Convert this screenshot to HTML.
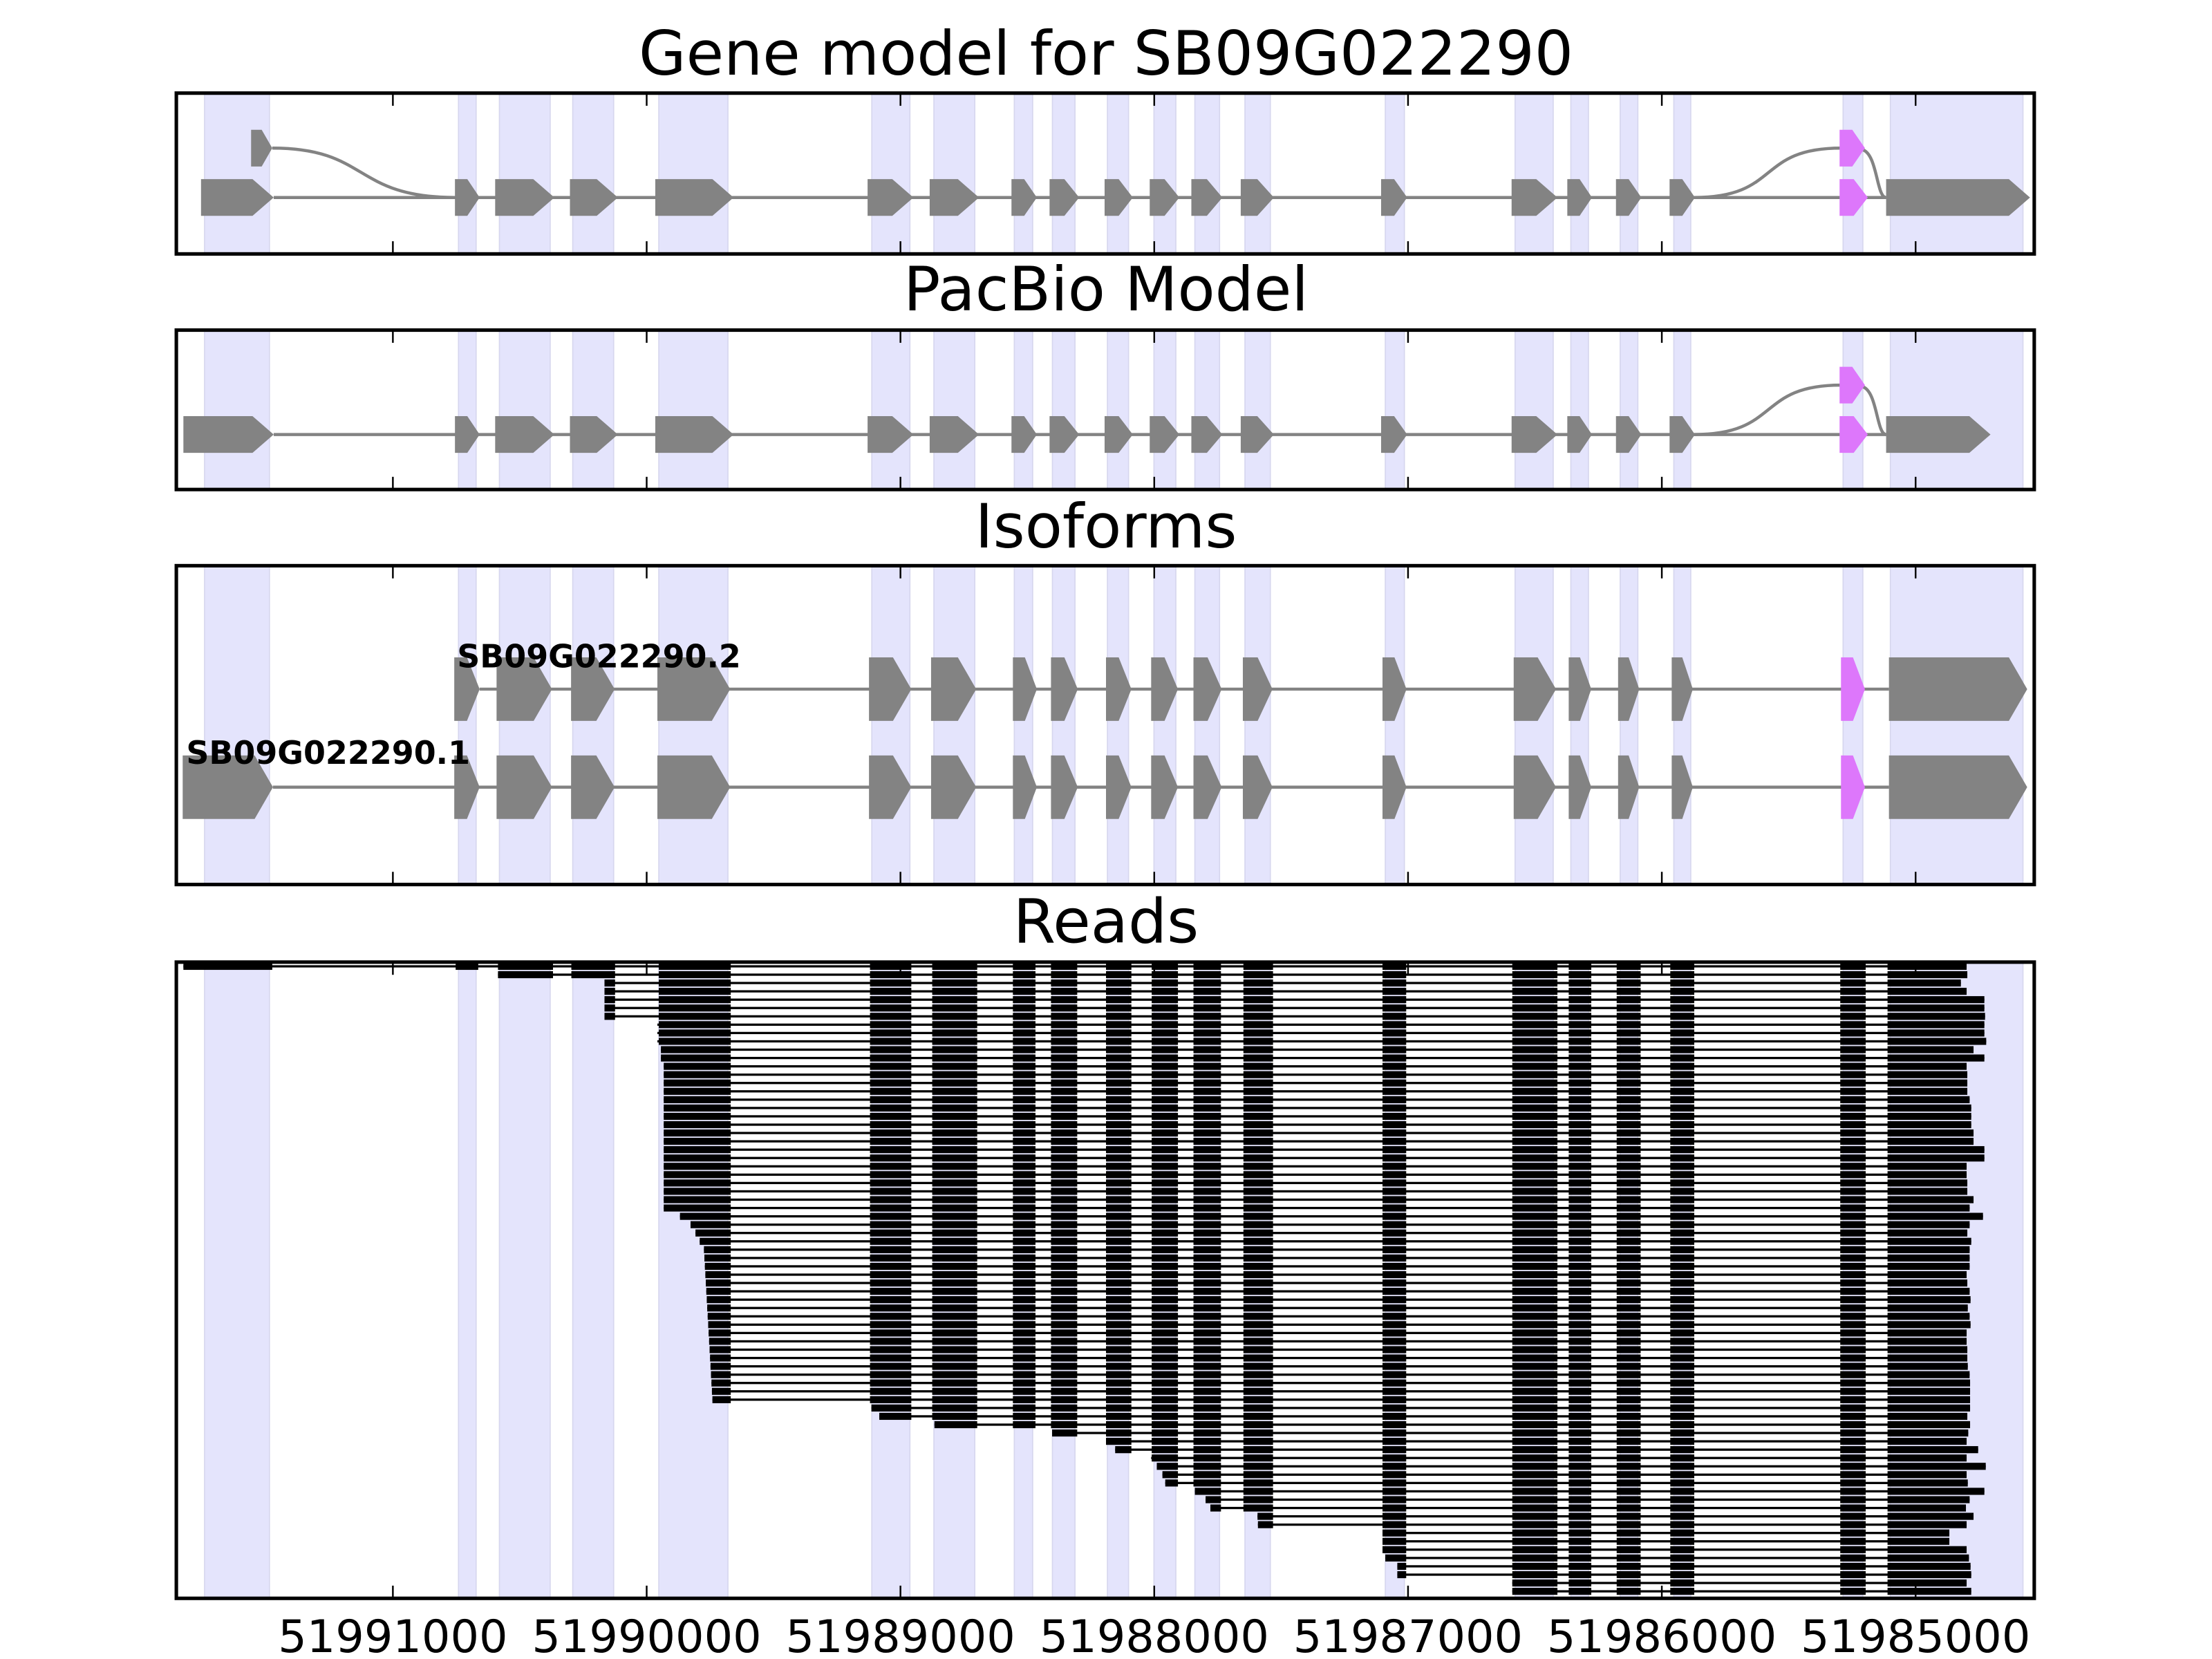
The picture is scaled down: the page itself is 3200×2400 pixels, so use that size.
<!DOCTYPE html>
<html><head><meta charset="utf-8">
<style>html,body{margin:0;padding:0;background:#fff}svg{display:block}</style>
</head><body>
<svg id="s" xmlns="http://www.w3.org/2000/svg" width="3200" height="2400" viewBox="0 0 1568 1176" font-family="DejaVu Sans, Liberation Sans, sans-serif">
<rect width="1568" height="1176" fill="#fff"/>
<g id="g"></g>
<g font-size="43.4" text-anchor="middle" fill="#000">
<text x="784" y="53">Gene model for SB09G022290</text>
<text x="784" y="220">PacBio Model</text>
<text x="784" y="388">Isoforms</text>
<text x="784" y="668">Reads</text>
</g>
<g font-size="32" text-anchor="middle" fill="#000">
<text x="278.5" y="1171">51991000</text>
<text x="458.4" y="1171">51990000</text>
<text x="638.3" y="1171">51989000</text>
<text x="818.2" y="1171">51988000</text>
<text x="998.1" y="1171">51987000</text>
<text x="1178" y="1171">51986000</text>
<text x="1357.9" y="1171">51985000</text>
</g>
<g font-size="22.5" font-weight="bold" fill="#000">
<text x="324" y="473">SB09G022290.2</text>
<text x="132" y="541.5">SB09G022290.1</text>
</g>
</svg>
<script>
(function(){
var g=document.getElementById('g'),h=[];
var L=125,R=1442;
var panels=[[66,180],[234,347],[401,627],[682,1133]];
var shade=[[145,191],[325,337.5],[354,390],[406,435],[467,516],[618,645],[662,691],[719,732],[746,762],[785,800],[818,833.5],[847,864.5],[882.5,900.5],[982,995.5],[1074,1101],[1113.5,1126],[1148.5,1161],[1186.5,1198.5],[1306.5,1320.5],[1340,1434]];
panels.forEach(function(p){
 shade.forEach(function(s){h.push('<rect x="'+s[0]+'" y="'+p[0]+'" width="'+(s[1]-s[0])+'" height="'+(p[1]-p[0])+'" fill="#e4e4fc" stroke="#d6d6ee" stroke-width="0.8"/>');});
});
function arrow(a,b,cy,hh,head,col){
 var w=b-a,hd=Math.min(head,w*0.5);
 h.push('<polygon points="'+a+','+(cy-hh)+' '+(b-hd)+','+(cy-hh)+' '+b+','+cy+' '+(b-hd)+','+(cy+hh)+' '+a+','+(cy+hh)+'" fill="'+col+'"/>');
}
var G='#838383',P='#dd77fb';
var gm=[[322.5,340],[351,393],[404,438],[464.5,520],[615,647.5],[659,694],[717,735],[744,765],[783,803],[815,836],[844.5,866.5],[879.5,903],[979,997.5],[1071.5,1104],[1111,1128.5],[1145.5,1163.5],[1183.5,1201.5]];
function model(top,first,last,upperLeft){
 var cy=top+74,uy=top+39;
 h.push('<line x1="'+first[1]+'" y1="'+cy+'" x2="1337" y2="'+cy+'" stroke="'+G+'" stroke-width="2.2"/>');
 if(upperLeft){
  h.push('<path d="M193,'+uy+' C262,'+uy+' 250,'+cy+' 323,'+cy+'" fill="none" stroke="'+G+'" stroke-width="2.2"/>');
 }
 h.push('<path d="M1201,'+cy+' C1262,'+cy+' 1245,'+uy+' 1305,'+uy+'" fill="none" stroke="'+G+'" stroke-width="2.2"/>');
 h.push('<path d="M1320,'+(uy+1)+' C1331,'+(uy+4)+' 1330,'+cy+' 1337,'+cy+'" fill="none" stroke="'+G+'" stroke-width="2.2"/>');
 arrow(first[0],first[1],cy,13,15,G);
 gm.forEach(function(e){arrow(e[0],e[1],cy,13,15,G);});
 arrow(1304,1324,cy,13,15,P);
 arrow(last[0],last[1],cy,13,15,G);
 arrow(1304,1322,uy,13,15,P);
 if(upperLeft) arrow(178,193,uy,13,8,G);
}
model(66,[142.5,194],[1337,1439],true);
model(234,[130,194],[1337,1411],false);
var iso=[[352,391.3],[404.8,435.7],[466,517.6],[616,646],[660,692],[718,735],[745,764],[784,802],[816,835],[846,866],[881,902],[980,997],[1073,1103],[1112,1128],[1147,1162],[1185,1200]];
function isoRow(cy,first){
 h.push('<line x1="'+first[1]+'" y1="'+cy+'" x2="1339" y2="'+cy+'" stroke="'+G+'" stroke-width="2.2"/>');
 arrow(first[0],first[1],cy,22.5,13,G);
 iso.forEach(function(e){arrow(e[0],e[1],cy,22.5,13,G);});
 arrow(1305,1322,cy,22.5,13,P);
 arrow(1339,1437,cy,22.5,13,G);
}
isoRow(488.5,[322,340]);
h.push('<line x1="193.5" y1="558" x2="322" y2="558" stroke="'+G+'" stroke-width="2.2"/>');
arrow(322,340,558,22.5,13,G);
isoRow(558,[129.5,193.5]);
var RE=[[130,193],[323,339],[353,392],[405,436],[467,518],[616.7,646],[660.8,692.7],[718,734],[745,763.6],[784,802],[816.4,835],[846,865.5],[881.4,902.4],[980,996.8],[1072,1104],[1112,1128],[1146,1163],[1184,1201],[1304.5,1322.5],[1338,9999]];
var ez=[735,738,710,735,812,812,815,812,812,820,765,812,735,738,738,738,748,755,755,755,765,765,812,812,735,735,738,738,765,748,806,748,738,755,748,748,748,735,738,748,752,740,748,752,735,735,738,738,740,748,750,750,750,750,738,750,742,735,785,735,818,735,740,812,748,732,765,735,660,660,735,745,752,755,735,755];
function st(i){
 if(i==0)return 130; if(i==1)return 353; if(i<=6)return 428.5; if(i<=9)return 466; if(i<=11)return 468.5; if(i<=29)return 470.5;
 var m={30:482,31:489.5,32:493,33:496,53:617.7,54:623.3,55:662.4,56:745.8,57:784,58:790.5,59:816,60:820,61:824,62:826,63:847,64:854.6,65:858,66:891.4,67:891.7,68:980,69:980,70:980,71:982,72:990.5,73:990.5,74:1072,75:1072};
 if(m[i]!==undefined)return m[i];
 return 499+(i-34)*(6/18);
}
for(var i=0;i<76;i++){
 var y=685+i*5.907,s=st(i),e=(2600+ez[i]/3)/2.0408;
 h.push('<rect x="'+s+'" y="'+(y-0.8)+'" width="'+(e-s)+'" height="1.6" fill="#000"/>');
 RE.forEach(function(r){
  var a=Math.max(r[0],s),b=Math.min(r[1],e);
  if(b>a)h.push('<rect x="'+a+'" y="'+(y-2.5)+'" width="'+(b-a)+'" height="5.0" fill="#000"/>');
 });
}
panels.forEach(function(p){
 for(var k=0;k<7;k++){var x=278.5+179.9*k;
  h.push('<line x1="'+x+'" y1="'+p[0]+'" x2="'+x+'" y2="'+(p[0]+9)+'" stroke="#000" stroke-width="1.2"/>');
  h.push('<line x1="'+x+'" y1="'+p[1]+'" x2="'+x+'" y2="'+(p[1]-9)+'" stroke="#000" stroke-width="1.2"/>');}
 h.push('<rect x="'+L+'" y="'+p[0]+'" width="'+(R-L)+'" height="'+(p[1]-p[0])+'" fill="none" stroke="#000" stroke-width="2.5"/>');
});
g.innerHTML=h.join('');
})();
</script>
</body></html>
